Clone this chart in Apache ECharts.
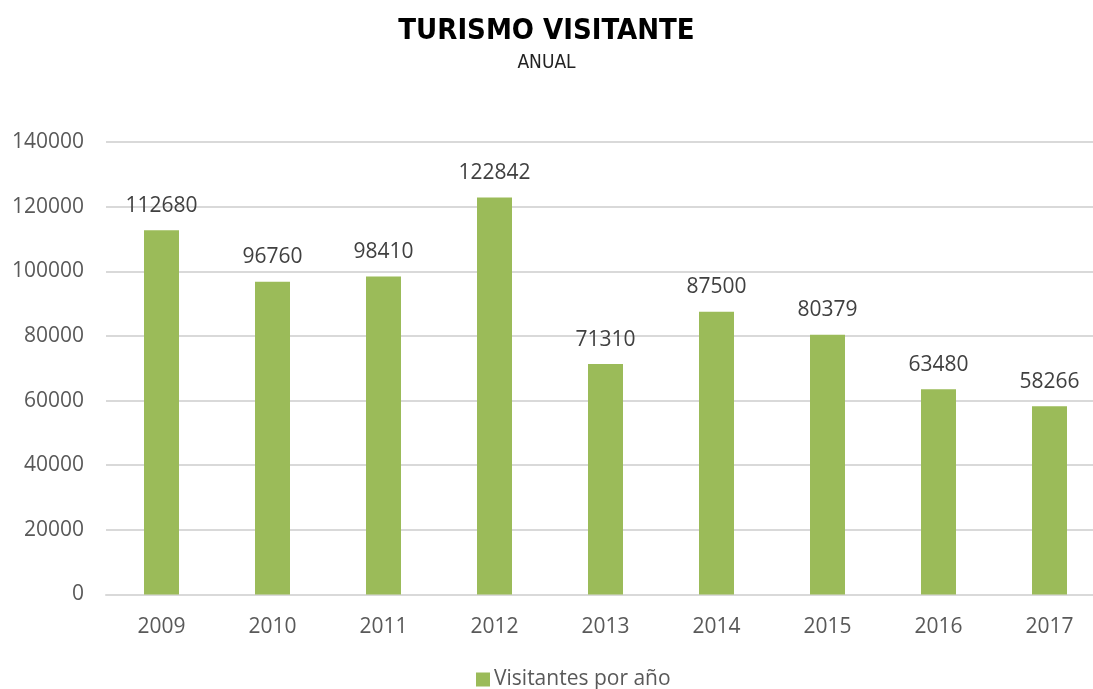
<!DOCTYPE html>
<html>
<head>
<meta charset="utf-8">
<script src="https://cdn.jsdelivr.net/npm/echarts@6/dist/echarts.min.js"></script>
<style>
  html, body { margin: 0; padding: 0; background: #fff; }
  #chart { width: 1093px; height: 689px; }
</style>
</head>
<body>
<div id="chart"></div>
<script>
// Annual visitor counts
const years = ['2009', '2010', '2011', '2012', '2013', '2014', '2015', '2016', '2017'];
const visitantes = [112680, 96760, 98410, 122842, 71310, 87500, 80379, 63480, 58266];
const seriesName = 'Visitantes por año';

const chart = echarts.init(document.getElementById('chart'));
const baseFont = '"Open Sans", "Liberation Sans", sans-serif';

chart.setOption({
  animation: false,
  backgroundColor: '#ffffff',
  title: {
    text: 'TURISMO VISITANTE',
    subtext: 'ANUAL',
    left: 'center',
    top: 12,
    itemGap: 8,
    textStyle: {
      fontFamily: '"DejaVu Sans Condensed", "Liberation Sans Narrow", sans-serif',
      fontWeight: 'bold',
      fontSize: 29,
      color: '#000000'
    },
    subtextStyle: {
      fontFamily: '"DejaVu Sans Condensed", "Liberation Sans Narrow", sans-serif',
      fontWeight: 'normal',
      fontSize: 19,
      color: '#222222'
    }
  },
  legend: {
    top: 664,
    left: 471,
    itemWidth: 14,
    itemHeight: 14,
    itemGap: 4,
    icon: 'rect',
    textStyle: { fontFamily: baseFont, fontSize: 21, color: '#595959', padding: [0, 0, 0, -1] },
    data: [seriesName]
  },
  grid: {
    left: 106,
    top: 142,
    bottom: 94.5,
    right: -12,
    outerBoundsMode: 'none',
    containLabel: false
  },
  xAxis: {
    type: 'category',
    data: years,
    axisLine: { lineStyle: { color: '#d9d9d9', width: 2 } },
    axisTick: { show: false },
    axisLabel: { fontFamily: baseFont, fontSize: 21, color: '#595959', margin: 22 }
  },
  yAxis: {
    type: 'value',
    min: 0,
    max: 140000,
    interval: 20000,
    axisLine: { show: false },
    axisTick: { show: false },
    axisLabel: {
      fontFamily: baseFont, fontSize: 21, color: '#595959', margin: 22,
      formatter: v => String(v)
    },
    splitLine: { lineStyle: { color: '#d9d9d9', width: 2 } }
  },
  series: [{
    name: seriesName,
    type: 'bar',
    data: visitantes,
    barWidth: 35,
    itemStyle: { color: '#9bbb59' },
    label: {
      show: true,
      position: 'top',
      distance: 14,
      fontFamily: baseFont,
      fontSize: 21,
      color: '#404040'
    }
  }]
});
</script>
</body>
</html>
